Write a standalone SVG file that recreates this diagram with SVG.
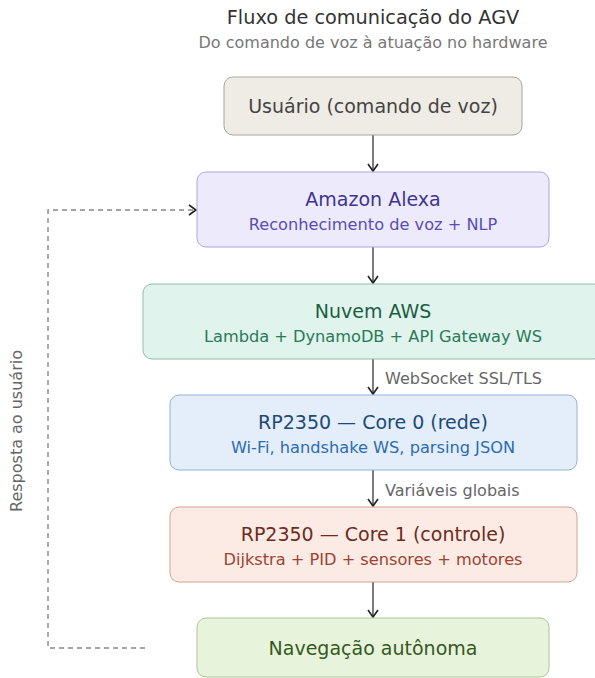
<svg xmlns="http://www.w3.org/2000/svg" width="595" height="678" viewBox="0 0 595 678">
<style>
text{font-family:"DejaVu Sans","Liberation Sans",sans-serif;text-anchor:middle}
.t{font-size:19.3px;fill:#333}
.st{font-size:16px;fill:#777}
.h{font-size:19px}
.s{font-size:16.2px}
.lbl{font-size:16px;fill:#666;text-anchor:start}
.c{fill:none;stroke:#444;stroke-width:1.4}
.d{fill:none;stroke:#888;stroke-width:1.4;stroke-dasharray:5,4}
</style>
<defs>
<marker id="ah" markerWidth="12" markerHeight="12" refX="10" refY="6" orient="auto" markerUnits="userSpaceOnUse">
<path d="M3,1 L10,6 L3,11" fill="none" stroke="#222" stroke-width="1.6"/>
</marker>
</defs>
<rect width="595" height="678" fill="#fff"/>
<text class="t" x="373" y="24">Fluxo de comunicação do AGV</text>
<text class="st" x="373" y="48">Do comando de voz à atuação no hardware</text>
<g id="connectors">
<line class="c" x1="373" y1="135" x2="373" y2="171" marker-end="url(#ah)"/>
<line class="c" x1="373" y1="247" x2="373" y2="283" marker-end="url(#ah)"/>
<line class="c" x1="373" y1="359" x2="373" y2="394" marker-end="url(#ah)"/>
<line class="c" x1="373" y1="470" x2="373" y2="506" marker-end="url(#ah)"/>
<line class="c" x1="373" y1="582" x2="373" y2="617" marker-end="url(#ah)"/>
<text class="lbl" x="385" y="384">WebSocket SSL/TLS</text>
<text class="lbl" x="385" y="496">Variáveis globais</text>
<polyline class="d" points="145,648 48,648 48,210 196,210" marker-end="url(#ah)"/>
<text class="lbl" style="text-anchor:middle" transform="translate(22,431) rotate(-90)">Resposta ao usuário</text>
</g>
<g id="usuario">
<rect x="224" y="77" width="298" height="58" rx="9" fill="#efece5" stroke="#a8a49c"/>
<text class="h" x="373" y="113" fill="#444">Usuário (comando de voz)</text>
</g>
<g id="alexa">
<rect x="197" y="172" width="352" height="75" rx="9" fill="#eceafb" stroke="#aba4e0"/>
<text class="h" x="373" y="206" fill="#3f3490">Amazon Alexa</text>
<text class="s" x="373" y="230" fill="#5a4cb5">Reconhecimento de voz + NLP</text>
</g>
<g id="aws">
<rect x="143" y="284" width="460" height="75" rx="9" fill="#e0f3ec" stroke="#8fbfa8"/>
<text class="h" x="373" y="318" fill="#1b5e42">Nuvem AWS</text>
<text class="s" x="373" y="342" fill="#2a7a58">Lambda + DynamoDB + API Gateway WS</text>
</g>
<g id="core0">
<rect x="170" y="395" width="407" height="75" rx="9" fill="#e3eefa" stroke="#92b2d8"/>
<text class="h" x="373" y="429" fill="#1d4a78">RP2350 — Core 0 (rede)</text>
<text class="s" x="373" y="453" fill="#2d6cb0">Wi-Fi, handshake WS, parsing JSON</text>
</g>
<g id="core1">
<rect x="170" y="507" width="407" height="75" rx="9" fill="#fbebe4" stroke="#d4a493"/>
<text class="h" x="373" y="541" fill="#6e2c1c">RP2350 — Core 1 (controle)</text>
<text class="s" x="373" y="565" fill="#9c4430">Dijkstra + PID + sensores + motores</text>
</g>
<g id="navegacao">
<rect x="197" y="618" width="352" height="59" rx="9" fill="#e8f3dc" stroke="#a9c892"/>
<text class="h" x="373" y="655" fill="#35591c">Navegação autônoma</text>
</g>
</svg>
